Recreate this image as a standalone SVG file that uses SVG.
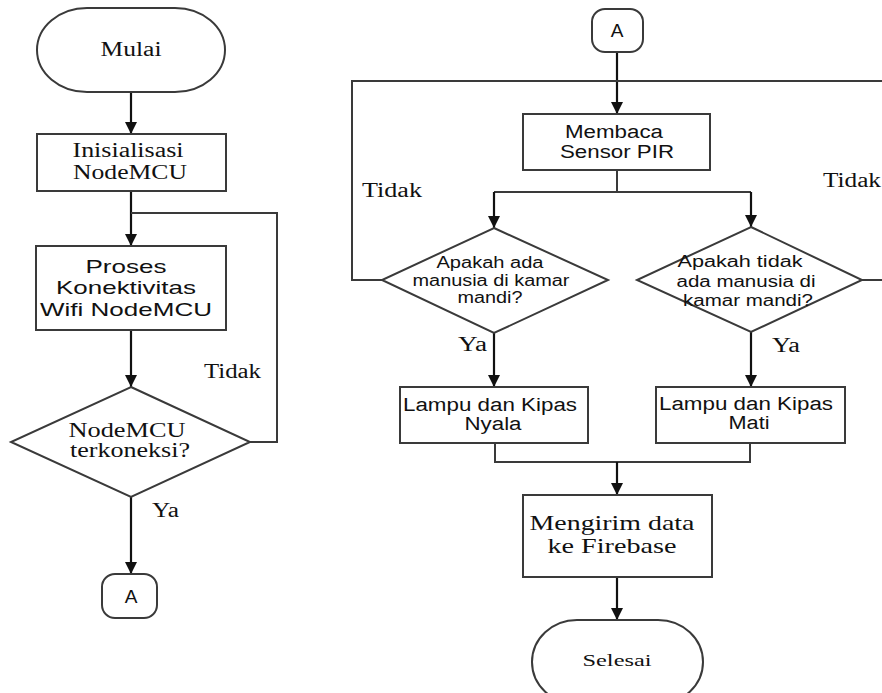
<svg xmlns="http://www.w3.org/2000/svg" width="882" height="693" viewBox="0 0 882 693">
<style>
.shape{fill:#fff;stroke:#3a3a3a;stroke-width:2}
.ln{fill:none;stroke:#3a3a3a;stroke-width:2}
.ar{fill:none;stroke:#111;stroke-width:2.2;marker-end:url(#ah)}
.serif{font-family:"Liberation Serif","Times New Roman",serif;fill:#111}
.sans{font-family:"Liberation Sans",Arial,sans-serif;fill:#111}
</style>
<defs>
<marker id="ah" markerUnits="userSpaceOnUse" markerWidth="12" markerHeight="12" refX="12" refY="6" orient="auto">
<path d="M0,0 L12,6 L0,12 z" fill="#111"/>
</marker>
</defs>
<rect width="882" height="693" fill="#fff"/>
<g id="connectors">
<path class="ar" d="M131,92 V134"/>
<path class="ar" d="M131,191 V246"/>
<path class="ln" d="M250,442 H277 V213 H131"/>
<path class="ar" d="M131,330 V387"/>
<path class="ar" d="M131,497 V574"/>
<path class="ar" d="M617,52 V114"/>
<path class="ln" d="M382,280 H352 V81 H617"/>
<path class="ln" d="M862,280 H892 V81 H617"/>
<path class="ln" d="M617,170 V192 M494,192 H751"/>
<path class="ar" d="M494,192 V228"/>
<path class="ar" d="M751,192 V227"/>
<path class="ar" d="M494,333 V387"/>
<path class="ar" d="M751,332 V387"/>
<path class="ln" d="M495,443 V462 H750 V443"/>
<path class="ar" d="M617,462 V495"/>
<path class="ar" d="M617,577 V620"/>
</g>
<g id="mulai">
<rect class="shape" x="37" y="8" width="188" height="84" rx="50" ry="42"/>
<text class="serif" x="131" y="56" font-size="20" text-anchor="middle" textLength="61" lengthAdjust="spacingAndGlyphs">Mulai</text>
</g>
<g id="inisialisasi">
<rect class="shape" x="37" y="134" width="189" height="57"/>
<text class="serif" x="128" y="157" font-size="20" text-anchor="middle" textLength="111" lengthAdjust="spacingAndGlyphs">Inisialisasi</text>
<text class="serif" x="130" y="179" font-size="20" text-anchor="middle" textLength="114" lengthAdjust="spacingAndGlyphs">NodeMCU</text>
</g>
<g id="proses">
<rect class="shape" x="36" y="246" width="190" height="84"/>
<text class="sans" x="126" y="273" font-size="19" text-anchor="middle" textLength="81" lengthAdjust="spacingAndGlyphs">Proses</text>
<text class="sans" x="126" y="294" font-size="19" text-anchor="middle" textLength="140" lengthAdjust="spacingAndGlyphs">Konektivitas</text>
<text class="sans" x="126" y="316" font-size="19" text-anchor="middle" textLength="172" lengthAdjust="spacingAndGlyphs">Wifi NodeMCU</text>
</g>
<g id="terkoneksi">
<polygon class="shape" points="131,387 250,442 131,497 11,442"/>
<text class="serif" x="127" y="437" font-size="20" text-anchor="middle" textLength="117" lengthAdjust="spacingAndGlyphs">NodeMCU</text>
<text class="serif" x="130" y="457" font-size="20" text-anchor="middle" textLength="120" lengthAdjust="spacingAndGlyphs">terkoneksi?</text>
</g>
<g id="labels-left">
<text class="serif" x="204" y="378" font-size="20" textLength="57" lengthAdjust="spacingAndGlyphs">Tidak</text>
<text class="serif" x="152" y="517" font-size="20" textLength="27" lengthAdjust="spacingAndGlyphs">Ya</text>
</g>
<g id="conn-a-left">
<rect class="shape" x="102" y="574" width="55" height="44" rx="13" ry="13"/>
<text class="sans" x="131" y="603" font-size="19" text-anchor="middle">A</text>
</g>
<g id="conn-a-top">
<rect class="shape" x="592" y="9" width="51" height="43" rx="13" ry="13"/>
<text class="sans" x="617" y="37" font-size="19" text-anchor="middle">A</text>
</g>
<g id="membaca">
<rect class="shape" x="523" y="114" width="187" height="56"/>
<text class="sans" x="614" y="138" font-size="18" text-anchor="middle" textLength="98" lengthAdjust="spacingAndGlyphs">Membaca</text>
<text class="sans" x="617" y="158" font-size="18" text-anchor="middle" textLength="114" lengthAdjust="spacingAndGlyphs">Sensor PIR</text>
</g>
<g id="ada-manusia">
<polygon class="shape" points="494,228 608,280 494,333 382,280"/>
<text class="sans" x="490" y="268" font-size="16" text-anchor="middle" textLength="107" lengthAdjust="spacingAndGlyphs">Apakah ada</text>
<text class="sans" x="491" y="286" font-size="16" text-anchor="middle" textLength="157" lengthAdjust="spacingAndGlyphs">manusia di kamar</text>
<text class="sans" x="490" y="303" font-size="16" text-anchor="middle" textLength="65" lengthAdjust="spacingAndGlyphs">mandi?</text>
</g>
<g id="tidak-ada-manusia">
<polygon class="shape" points="751,227 862,280 751,332 637,280"/>
<text class="sans" x="740" y="267" font-size="16" text-anchor="middle" textLength="125" lengthAdjust="spacingAndGlyphs">Apakah tidak</text>
<text class="sans" x="746" y="287" font-size="16" text-anchor="middle" textLength="139" lengthAdjust="spacingAndGlyphs">ada manusia di</text>
<text class="sans" x="748" y="306" font-size="16" text-anchor="middle" textLength="130" lengthAdjust="spacingAndGlyphs">kamar mandi?</text>
</g>
<g id="labels-right">
<text class="serif" x="362" y="197" font-size="20" textLength="60" lengthAdjust="spacingAndGlyphs">Tidak</text>
<text class="serif" x="823" y="187" font-size="20" textLength="58" lengthAdjust="spacingAndGlyphs">Tidak</text>
<text class="serif" x="458" y="351" font-size="20" textLength="29" lengthAdjust="spacingAndGlyphs">Ya</text>
<text class="serif" x="772" y="352" font-size="20" textLength="28" lengthAdjust="spacingAndGlyphs">Ya</text>
</g>
<g id="nyala">
<rect class="shape" x="400" y="387" width="188" height="56"/>
<text class="sans" x="490" y="411" font-size="18" text-anchor="middle" textLength="174" lengthAdjust="spacingAndGlyphs">Lampu dan Kipas</text>
<text class="sans" x="493" y="430" font-size="18" text-anchor="middle" textLength="57" lengthAdjust="spacingAndGlyphs">Nyala</text>
</g>
<g id="mati">
<rect class="shape" x="656" y="387" width="189" height="56"/>
<text class="sans" x="746" y="410" font-size="18" text-anchor="middle" textLength="174" lengthAdjust="spacingAndGlyphs">Lampu dan Kipas</text>
<text class="sans" x="749" y="429" font-size="18" text-anchor="middle" textLength="41" lengthAdjust="spacingAndGlyphs">Mati</text>
</g>
<g id="mengirim">
<rect class="shape" x="523" y="495" width="189" height="82"/>
<text class="serif" x="612" y="530" font-size="21" text-anchor="middle" textLength="165" lengthAdjust="spacingAndGlyphs">Mengirim data</text>
<text class="serif" x="612" y="553" font-size="21" text-anchor="middle" textLength="129" lengthAdjust="spacingAndGlyphs">ke Firebase</text>
</g>
<g id="selesai">
<rect class="shape" x="532" y="620" width="171" height="84" rx="45" ry="42"/>
<text class="serif" x="617" y="666" font-size="17" text-anchor="middle" textLength="69" lengthAdjust="spacingAndGlyphs">Selesai</text>
</g>
</svg>
